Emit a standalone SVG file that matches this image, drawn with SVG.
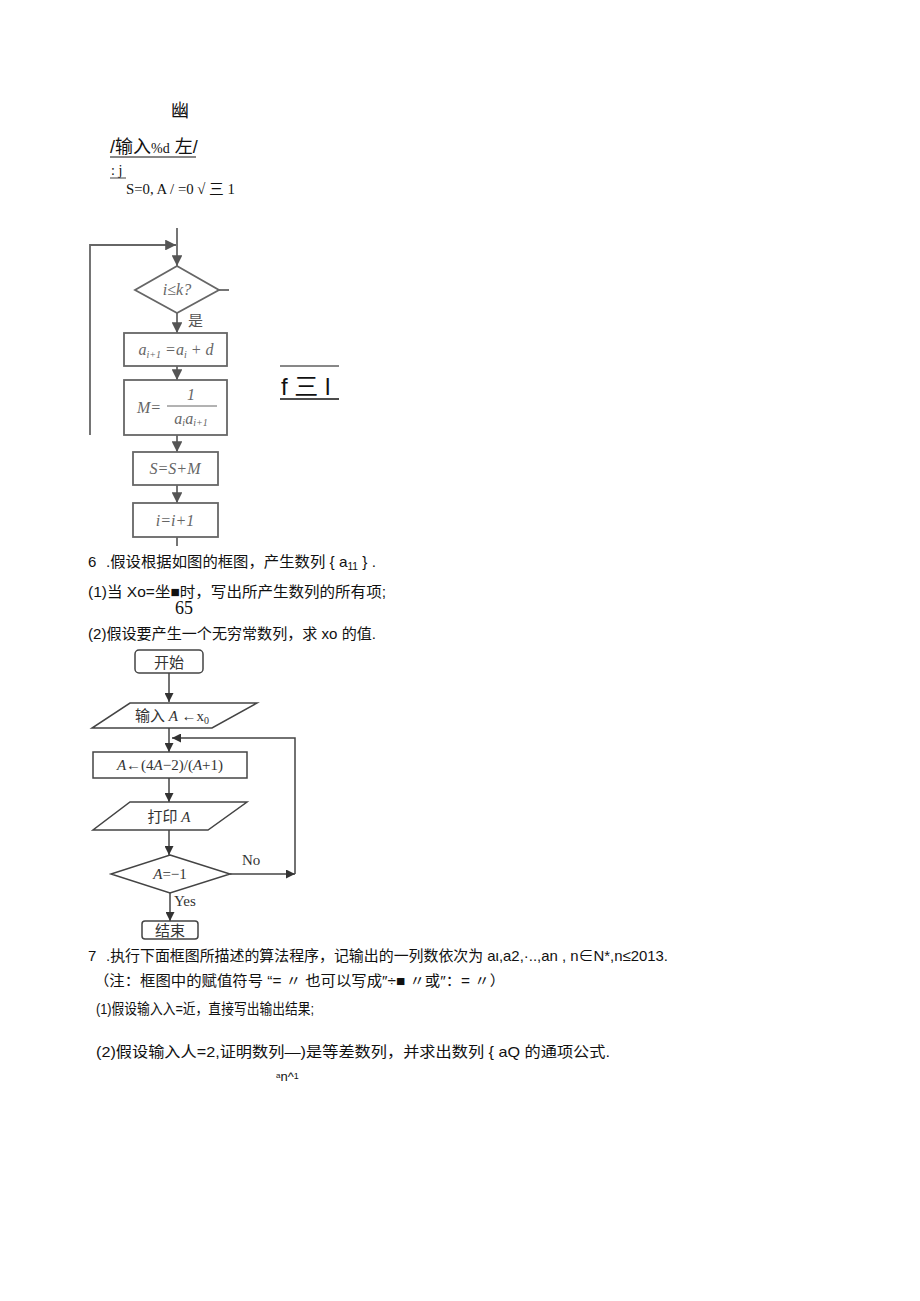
<svg xmlns="http://www.w3.org/2000/svg" width="920" height="1301" viewBox="0 0 920 1301">
<style>
.cjk{font-family:"Liberation Sans","Noto Sans CJK SC",sans-serif;fill:#111}
.ser{font-family:"Liberation Serif","Noto Sans CJK SC",serif;fill:#111}
.g1{fill:#fff;stroke:#666;stroke-width:1.8}
.l1{fill:none;stroke:#666;stroke-width:1.8}
.t1{font-family:"Liberation Serif",serif;font-style:italic;fill:#666;font-size:16px}
.g2{fill:#fff;stroke:#444;stroke-width:1.5}
.l2{fill:none;stroke:#444;stroke-width:1.5}
.t2{font-family:"Liberation Serif","Noto Sans CJK SC",serif;fill:#333;font-size:15px}
</style>
<defs>
<marker id="a1" viewBox="0 0 10 10" refX="10" refY="5" markerWidth="6" markerHeight="6" orient="auto"><path d="M0,0L10,5L0,10z" fill="#555"/></marker>
<marker id="a2" viewBox="0 0 10 10" refX="10" refY="5" markerWidth="6" markerHeight="6" orient="auto"><path d="M0,0L10,5L0,10z" fill="#333"/></marker>
</defs>
<rect width="920" height="1301" fill="#fff"/>

<!-- header text -->
<text class="cjk" x="171" y="117" font-size="18">幽</text>
<text class="cjk" x="110" y="153" font-size="18">/输入<tspan class="ser" font-size="14">%d</tspan> 左/</text>
<line x1="110" y1="157" x2="196" y2="157" stroke="#111" stroke-width="1.2"/>
<text class="ser" x="111" y="175" font-size="14">: j</text>
<line x1="110" y1="178" x2="126" y2="178" stroke="#111" stroke-width="0.8"/>
<text class="ser" x="126" y="194" font-size="15" textLength="109" lengthAdjust="spacingAndGlyphs">S=0, A / =0 √ 三 1</text>

<!-- flowchart 1 -->
<g id="fc1-connectors">
<line class="l1" x1="177" y1="228" x2="177" y2="266" marker-end="url(#a1)"/>
<polyline class="l1" points="90,435 90,245 176,245" marker-end="url(#a1)"/>
<line class="l1" x1="219" y1="290" x2="229" y2="290"/>
<line class="l1" x1="177" y1="313" x2="177" y2="333" marker-end="url(#a1)"/>
<line class="l1" x1="177" y1="366" x2="177" y2="380" marker-end="url(#a1)"/>
<line class="l1" x1="177" y1="435" x2="177" y2="452" marker-end="url(#a1)"/>
<line class="l1" x1="177" y1="485" x2="177" y2="503" marker-end="url(#a1)"/>
<line class="l1" x1="177" y1="537" x2="177" y2="546"/>
</g>
<g id="fc1-cond">
<polygon class="g1" points="177,266 219,290 177,313 135,290"/>
<text class="t1" x="177" y="295" text-anchor="middle">i≤k?</text>
<text x="188" y="326" font-family="Noto Sans CJK SC,sans-serif" font-size="15" fill="#555">是</text>
</g>
<g id="fc1-box1">
<rect class="g1" x="124" y="333" width="103" height="33"/>
<text class="t1" x="176" y="355" text-anchor="middle">a<tspan font-size="10" dy="3">i+1</tspan><tspan dy="-3"> =a</tspan><tspan font-size="10" dy="3">i</tspan><tspan dy="-3"> + d</tspan></text>
</g>
<g id="fc1-box2">
<rect class="g1" x="124" y="380" width="103" height="55"/>
<text class="t1" x="137" y="413">M=</text>
<text class="t1" x="191" y="400" text-anchor="middle" font-style="normal">1</text>
<line x1="167" y1="406" x2="217" y2="406" stroke="#666" stroke-width="1"/>
<text class="t1" x="191" y="424" text-anchor="middle">a<tspan font-size="10" dy="2">i</tspan><tspan dy="-2">a</tspan><tspan font-size="10" dy="2">i+1</tspan></text>
</g>
<g id="fc1-box3">
<rect class="g1" x="133" y="452" width="85" height="33"/>
<text class="t1" x="175" y="474" text-anchor="middle">S=S+M</text>
</g>
<g id="fc1-box4">
<rect class="g1" x="133" y="503" width="85" height="34"/>
<text class="t1" x="175" y="526" text-anchor="middle">i=i+1</text>
</g>

<!-- f 三 l -->
<line x1="280" y1="366" x2="339" y2="366" stroke="#111" stroke-width="1"/>
<text class="cjk" x="281" y="395" font-size="24">f 三 l</text>
<line x1="280" y1="399" x2="339" y2="399" stroke="#111" stroke-width="1.5"/>

<!-- question 6 -->
<text class="cjk" x="88" y="567" font-size="15">6</text>
<text class="cjk" x="106" y="567" font-size="15" textLength="270" lengthAdjust="spacingAndGlyphs">.假设根据如图的框图，产生数列 { a<tspan font-size="10" dy="3">11</tspan><tspan dy="-3"> } .</tspan></text>
<text class="cjk" x="88" y="597" font-size="15" textLength="298" lengthAdjust="spacingAndGlyphs">(1)当 Xo=坐■时，写出所产生数列的所有项;</text>
<text class="ser" x="175" y="614" font-size="18">65</text>
<text class="cjk" x="88" y="639" font-size="15" textLength="288" lengthAdjust="spacingAndGlyphs">(2)假设要产生一个无穷常数列，求 xo 的值.</text>

<!-- flowchart 2 -->
<g id="fc2-connectors">
<line class="l2" x1="169" y1="673" x2="169" y2="702" marker-end="url(#a2)"/>
<line class="l2" x1="169" y1="728" x2="169" y2="752" marker-end="url(#a2)"/>
<polyline class="l2" points="230,874 295,874" marker-end="url(#a2)"/>
<polyline class="l2" points="295,874 295,738 172,738" marker-end="url(#a2)"/>
<line class="l2" x1="169" y1="778" x2="169" y2="802" marker-end="url(#a2)"/>
<line class="l2" x1="169" y1="830" x2="169" y2="855" marker-end="url(#a2)"/>
<line class="l2" x1="170" y1="893" x2="170" y2="921" marker-end="url(#a2)"/>
<text class="t2" x="242" y="865" font-size="16">No</text>
<text class="t2" x="174" y="906" font-size="16">Yes</text>
</g>
<g id="fc2-start">
<rect class="g2" x="135" y="650" width="68" height="23" rx="4"/>
<text class="t2" x="169" y="668" text-anchor="middle" font-family="Noto Sans CJK SC,sans-serif" font-size="16">开始</text>
</g>
<g id="fc2-input">
<polygon class="g2" points="130,703 257,703 212,728 92,728"/>
<text class="t2" x="172" y="721" text-anchor="middle"><tspan font-family="Noto Sans CJK SC,sans-serif">输入</tspan> <tspan font-style="italic">A</tspan> ←x<tspan font-size="10" dy="3">0</tspan></text>
</g>
<g id="fc2-assign">
<rect class="g2" x="93" y="752" width="154" height="26"/>
<text class="t2" x="170" y="770" text-anchor="middle"><tspan font-style="italic">A</tspan>←(4<tspan font-style="italic">A</tspan>−2)/(<tspan font-style="italic">A</tspan>+1)</text>
</g>
<g id="fc2-print">
<polygon class="g2" points="130,802 247,802 208,830 93,830"/>
<text class="t2" x="169" y="822" text-anchor="middle"><tspan font-family="Noto Sans CJK SC,sans-serif">打印</tspan> <tspan font-style="italic">A</tspan></text>
</g>
<g id="fc2-cond">
<polygon class="g2" points="170,855 230,874 170,893 111,874"/>
<text class="t2" x="170" y="879" text-anchor="middle"><tspan font-style="italic">A</tspan>=−1</text>
</g>
<g id="fc2-end">
<rect class="g2" x="142" y="921" width="56" height="18" rx="3"/>
<text class="t2" x="170" y="936" text-anchor="middle" font-family="Noto Sans CJK SC,sans-serif" font-size="16">结束</text>
</g>

<!-- question 7 -->
<text class="cjk" x="88" y="961" font-size="15">7</text>
<text class="cjk" x="106" y="961" font-size="15" textLength="562" lengthAdjust="spacingAndGlyphs">.执行下面框图所描述的算法程序，记输出的一列数依次为 aι,a2,·..,an , n∈N*,n≤2013.</text>
<text class="cjk" x="94" y="986" font-size="14.5" textLength="411" lengthAdjust="spacingAndGlyphs">（注：框图中的赋值符号 “= 〃 也可以写成″÷■ 〃或″：= 〃）</text>
<text class="cjk" x="96" y="1014" font-size="15" textLength="218" lengthAdjust="spacingAndGlyphs">(1)假设输入入=近，直接写出输出结果;</text>
<text class="cjk" x="96" y="1057" font-size="15" textLength="514" lengthAdjust="spacingAndGlyphs">(2)假设输入人=2,证明数列—)是等差数列，并求出数列 { aQ 的通项公式.</text>
<text class="cjk" x="276" y="1081" font-size="13"><tspan font-size="8" dy="-3">a</tspan><tspan dy="3">n^</tspan><tspan font-size="9" dy="-2">1</tspan></text>
</svg>
